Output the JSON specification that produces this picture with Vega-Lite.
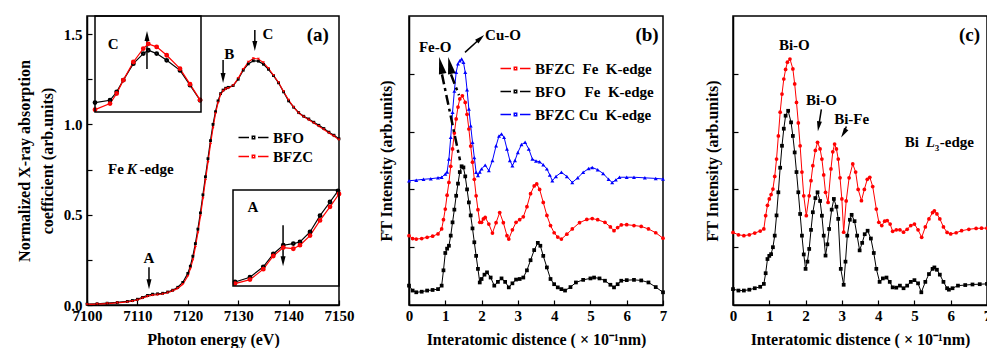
{
"$schema": "https://vega.github.io/schema/vega-lite/v6.json",
"padding": {"left": 15, "top": 14, "right": 0, "bottom": 0},
"bounds": "flush",
"spacing": 70,
"datasets": {
"a": [
{"s":"BFO","x":7100,"y":0.005},{"s":"BFO","x":7102,"y":0.007},{"s":"BFO","x":7104,"y":0.01},{"s":"BFO","x":7106,"y":0.014},{"s":"BFO","x":7108,"y":0.02},{"s":"BFO","x":7109,"y":0.025},{"s":"BFO","x":7110,"y":0.032},{"s":"BFO","x":7111,"y":0.042},{"s":"BFO","x":7112,"y":0.053},{"s":"BFO","x":7113,"y":0.06},{"s":"BFO","x":7114,"y":0.062},{"s":"BFO","x":7115,"y":0.065},{"s":"BFO","x":7116,"y":0.072},{"s":"BFO","x":7117,"y":0.082},{"s":"BFO","x":7118,"y":0.098},{"s":"BFO","x":7119,"y":0.125},{"s":"BFO","x":7120,"y":0.175},{"s":"BFO","x":7120.5,"y":0.215},{"s":"BFO","x":7121,"y":0.27},{"s":"BFO","x":7121.5,"y":0.34},{"s":"BFO","x":7122,"y":0.42},{"s":"BFO","x":7122.5,"y":0.51},{"s":"BFO","x":7123,"y":0.61},{"s":"BFO","x":7123.5,"y":0.71},{"s":"BFO","x":7124,"y":0.81},{"s":"BFO","x":7124.5,"y":0.91},{"s":"BFO","x":7125,"y":1.0},{"s":"BFO","x":7125.5,"y":1.07},{"s":"BFO","x":7126,"y":1.13},{"s":"BFO","x":7126.5,"y":1.17},{"s":"BFO","x":7127,"y":1.19},{"s":"BFO","x":7127.5,"y":1.2},{"s":"BFO","x":7128,"y":1.205},{"s":"BFO","x":7129,"y":1.215},{"s":"BFO","x":7130,"y":1.25},{"s":"BFO","x":7131,"y":1.3},{"s":"BFO","x":7132,"y":1.335},{"s":"BFO","x":7133,"y":1.352},{"s":"BFO","x":7134,"y":1.35},{"s":"BFO","x":7135,"y":1.333},{"s":"BFO","x":7136,"y":1.305},{"s":"BFO","x":7137,"y":1.27},{"s":"BFO","x":7138,"y":1.23},{"s":"BFO","x":7139,"y":1.18},{"s":"BFO","x":7140,"y":1.13},{"s":"BFO","x":7141,"y":1.095},{"s":"BFO","x":7142,"y":1.065},{"s":"BFO","x":7143,"y":1.045},{"s":"BFO","x":7144,"y":1.03},{"s":"BFO","x":7145,"y":1.012},{"s":"BFO","x":7146,"y":0.995},{"s":"BFO","x":7147,"y":0.977},{"s":"BFO","x":7148,"y":0.957},{"s":"BFO","x":7149,"y":0.94},{"s":"BFO","x":7150,"y":0.92},
{"s":"BFZC","x":7100,"y":0.003},{"s":"BFZC","x":7102,"y":0.005},{"s":"BFZC","x":7104,"y":0.008},{"s":"BFZC","x":7106,"y":0.012},{"s":"BFZC","x":7108,"y":0.017},{"s":"BFZC","x":7109,"y":0.021},{"s":"BFZC","x":7110,"y":0.028},{"s":"BFZC","x":7111,"y":0.038},{"s":"BFZC","x":7112,"y":0.048},{"s":"BFZC","x":7113,"y":0.054},{"s":"BFZC","x":7114,"y":0.057},{"s":"BFZC","x":7115,"y":0.061},{"s":"BFZC","x":7116,"y":0.068},{"s":"BFZC","x":7117,"y":0.078},{"s":"BFZC","x":7118,"y":0.092},{"s":"BFZC","x":7119,"y":0.115},{"s":"BFZC","x":7120,"y":0.16},{"s":"BFZC","x":7120.5,"y":0.2},{"s":"BFZC","x":7121,"y":0.25},{"s":"BFZC","x":7121.5,"y":0.32},{"s":"BFZC","x":7122,"y":0.4},{"s":"BFZC","x":7122.5,"y":0.49},{"s":"BFZC","x":7123,"y":0.59},{"s":"BFZC","x":7123.5,"y":0.69},{"s":"BFZC","x":7124,"y":0.79},{"s":"BFZC","x":7124.5,"y":0.89},{"s":"BFZC","x":7125,"y":0.98},{"s":"BFZC","x":7125.5,"y":1.06},{"s":"BFZC","x":7126,"y":1.12},{"s":"BFZC","x":7126.5,"y":1.165},{"s":"BFZC","x":7127,"y":1.185},{"s":"BFZC","x":7127.5,"y":1.195},{"s":"BFZC","x":7128,"y":1.2},{"s":"BFZC","x":7129,"y":1.215},{"s":"BFZC","x":7130,"y":1.255},{"s":"BFZC","x":7131,"y":1.305},{"s":"BFZC","x":7132,"y":1.345},{"s":"BFZC","x":7133,"y":1.365},{"s":"BFZC","x":7134,"y":1.362},{"s":"BFZC","x":7135,"y":1.342},{"s":"BFZC","x":7136,"y":1.31},{"s":"BFZC","x":7137,"y":1.272},{"s":"BFZC","x":7138,"y":1.232},{"s":"BFZC","x":7139,"y":1.182},{"s":"BFZC","x":7140,"y":1.135},{"s":"BFZC","x":7141,"y":1.095},{"s":"BFZC","x":7142,"y":1.063},{"s":"BFZC","x":7143,"y":1.042},{"s":"BFZC","x":7144,"y":1.025},{"s":"BFZC","x":7145,"y":1.008},{"s":"BFZC","x":7146,"y":0.99},{"s":"BFZC","x":7147,"y":0.972},{"s":"BFZC","x":7148,"y":0.952},{"s":"BFZC","x":7149,"y":0.935},{"s":"BFZC","x":7150,"y":0.915}
],
"ic": [
{"s":"BFO","x":7127.5,"y":1.198},{"s":"BFO","x":7129.06,"y":1.205},{"s":"BFO","x":7129.75,"y":1.23},{"s":"BFO","x":7130.44,"y":1.265},{"s":"BFO","x":7131.48,"y":1.314},{"s":"BFO","x":7132.51,"y":1.344},{"s":"BFO","x":7133.03,"y":1.354},{"s":"BFO","x":7133.9,"y":1.344},{"s":"BFO","x":7134.94,"y":1.324},{"s":"BFO","x":7136.32,"y":1.294},{"s":"BFO","x":7137.36,"y":1.25},{"s":"BFO","x":7138.4,"y":1.205},
{"s":"BFZC","x":7127.5,"y":1.177},{"s":"BFZC","x":7129.06,"y":1.195},{"s":"BFZC","x":7129.75,"y":1.225},{"s":"BFZC","x":7130.44,"y":1.265},{"s":"BFZC","x":7131.48,"y":1.319},{"s":"BFZC","x":7132.51,"y":1.359},{"s":"BFZC","x":7133.03,"y":1.373},{"s":"BFZC","x":7133.9,"y":1.364},{"s":"BFZC","x":7134.94,"y":1.339},{"s":"BFZC","x":7136.32,"y":1.299},{"s":"BFZC","x":7137.36,"y":1.253},{"s":"BFZC","x":7138.4,"y":1.206}
],
"ia": [
{"s":"BFO","x":7106.23,"y":0.005},{"s":"BFO","x":7107.92,"y":0.011},{"s":"BFO","x":7109.43,"y":0.024},{"s":"BFO","x":7110.56,"y":0.04},{"s":"BFO","x":7111.69,"y":0.051},{"s":"BFO","x":7112.83,"y":0.053},{"s":"BFO","x":7113.58,"y":0.055},{"s":"BFO","x":7114.72,"y":0.0675},{"s":"BFO","x":7115.85,"y":0.088},{"s":"BFO","x":7116.98,"y":0.105},{"s":"BFO","x":7117.89,"y":0.119},
{"s":"BFZC","x":7106.23,"y":0.003},{"s":"BFZC","x":7107.92,"y":0.008},{"s":"BFZC","x":7109.43,"y":0.021},{"s":"BFZC","x":7110.56,"y":0.0375},{"s":"BFZC","x":7111.69,"y":0.048},{"s":"BFZC","x":7112.83,"y":0.0466},{"s":"BFZC","x":7113.58,"y":0.051},{"s":"BFZC","x":7114.72,"y":0.063},{"s":"BFZC","x":7115.85,"y":0.082},{"s":"BFZC","x":7116.98,"y":0.099},{"s":"BFZC","x":7118,"y":0.115}
],
"b": [
{"s":"BFO-Fe","x":0,"y":0.67},{"s":"BFO-Fe","x":0.1,"y":0.5},{"s":"BFO-Fe","x":0.2,"y":0.44},{"s":"BFO-Fe","x":0.35,"y":0.46},{"s":"BFO-Fe","x":0.5,"y":0.5},{"s":"BFO-Fe","x":0.65,"y":0.52},{"s":"BFO-Fe","x":0.8,"y":0.55},{"s":"BFO-Fe","x":0.9,"y":0.67},{"s":"BFO-Fe","x":0.95,"y":1.2},{"s":"BFO-Fe","x":1.0,"y":1.8},{"s":"BFO-Fe","x":1.05,"y":1.95},{"s":"BFO-Fe","x":1.1,"y":2.05},{"s":"BFO-Fe","x":1.15,"y":2.4},{"s":"BFO-Fe","x":1.2,"y":2.86},{"s":"BFO-Fe","x":1.25,"y":3.3},{"s":"BFO-Fe","x":1.3,"y":3.78},{"s":"BFO-Fe","x":1.35,"y":4.2},{"s":"BFO-Fe","x":1.4,"y":4.6},{"s":"BFO-Fe","x":1.45,"y":4.8},{"s":"BFO-Fe","x":1.5,"y":4.76},{"s":"BFO-Fe","x":1.55,"y":4.45},{"s":"BFO-Fe","x":1.6,"y":4.0},{"s":"BFO-Fe","x":1.65,"y":3.55},{"s":"BFO-Fe","x":1.7,"y":3.1},{"s":"BFO-Fe","x":1.75,"y":2.65},{"s":"BFO-Fe","x":1.8,"y":2.17},{"s":"BFO-Fe","x":1.85,"y":1.7},{"s":"BFO-Fe","x":1.9,"y":1.25},{"s":"BFO-Fe","x":1.95,"y":0.78},{"s":"BFO-Fe","x":2.0,"y":0.9},{"s":"BFO-Fe","x":2.08,"y":1.05},{"s":"BFO-Fe","x":2.15,"y":1.13},{"s":"BFO-Fe","x":2.25,"y":0.95},{"s":"BFO-Fe","x":2.35,"y":0.67},{"s":"BFO-Fe","x":2.45,"y":0.8},{"s":"BFO-Fe","x":2.55,"y":0.92},{"s":"BFO-Fe","x":2.65,"y":0.8},{"s":"BFO-Fe","x":2.75,"y":0.61},{"s":"BFO-Fe","x":2.85,"y":0.75},{"s":"BFO-Fe","x":2.95,"y":0.88},{"s":"BFO-Fe","x":3.05,"y":0.9},{"s":"BFO-Fe","x":3.15,"y":0.95},{"s":"BFO-Fe","x":3.25,"y":1.2},{"s":"BFO-Fe","x":3.35,"y":1.55},{"s":"BFO-Fe","x":3.45,"y":1.9},{"s":"BFO-Fe","x":3.55,"y":2.15},{"s":"BFO-Fe","x":3.62,"y":2.05},{"s":"BFO-Fe","x":3.7,"y":1.7},{"s":"BFO-Fe","x":3.8,"y":1.3},{"s":"BFO-Fe","x":3.9,"y":0.9},{"s":"BFO-Fe","x":4.0,"y":0.72},{"s":"BFO-Fe","x":4.1,"y":0.61},{"s":"BFO-Fe","x":4.2,"y":0.55},{"s":"BFO-Fe","x":4.3,"y":0.5},{"s":"BFO-Fe","x":4.45,"y":0.62},{"s":"BFO-Fe","x":4.6,"y":0.78},{"s":"BFO-Fe","x":4.8,"y":0.87},{"s":"BFO-Fe","x":5.0,"y":0.92},{"s":"BFO-Fe","x":5.1,"y":0.95},{"s":"BFO-Fe","x":5.25,"y":0.92},{"s":"BFO-Fe","x":5.4,"y":0.84},{"s":"BFO-Fe","x":5.55,"y":0.7},{"s":"BFO-Fe","x":5.65,"y":0.61},{"s":"BFO-Fe","x":5.75,"y":0.72},{"s":"BFO-Fe","x":5.85,"y":0.84},{"s":"BFO-Fe","x":6.0,"y":0.86},{"s":"BFO-Fe","x":6.2,"y":0.87},{"s":"BFO-Fe","x":6.4,"y":0.85},{"s":"BFO-Fe","x":6.6,"y":0.78},{"s":"BFO-Fe","x":6.8,"y":0.62},{"s":"BFO-Fe","x":7.0,"y":0.44},
{"s":"BFZC-Fe","x":0,"y":2.4},{"s":"BFZC-Fe","x":0.1,"y":2.3},{"s":"BFZC-Fe","x":0.2,"y":2.28},{"s":"BFZC-Fe","x":0.35,"y":2.3},{"s":"BFZC-Fe","x":0.5,"y":2.34},{"s":"BFZC-Fe","x":0.65,"y":2.38},{"s":"BFZC-Fe","x":0.8,"y":2.46},{"s":"BFZC-Fe","x":0.9,"y":2.63},{"s":"BFZC-Fe","x":0.95,"y":2.95},{"s":"BFZC-Fe","x":1.0,"y":3.32},{"s":"BFZC-Fe","x":1.05,"y":3.8},{"s":"BFZC-Fe","x":1.1,"y":4.24},{"s":"BFZC-Fe","x":1.15,"y":4.8},{"s":"BFZC-Fe","x":1.2,"y":5.4},{"s":"BFZC-Fe","x":1.25,"y":5.95},{"s":"BFZC-Fe","x":1.3,"y":6.44},{"s":"BFZC-Fe","x":1.35,"y":6.85},{"s":"BFZC-Fe","x":1.4,"y":7.13},{"s":"BFZC-Fe","x":1.47,"y":7.24},{"s":"BFZC-Fe","x":1.55,"y":7.01},{"s":"BFZC-Fe","x":1.6,"y":6.6},{"s":"BFZC-Fe","x":1.65,"y":6.09},{"s":"BFZC-Fe","x":1.7,"y":5.5},{"s":"BFZC-Fe","x":1.75,"y":4.94},{"s":"BFZC-Fe","x":1.8,"y":4.35},{"s":"BFZC-Fe","x":1.85,"y":3.78},{"s":"BFZC-Fe","x":1.9,"y":3.3},{"s":"BFZC-Fe","x":1.95,"y":2.86},{"s":"BFZC-Fe","x":2.0,"y":2.86},{"s":"BFZC-Fe","x":2.05,"y":2.98},{"s":"BFZC-Fe","x":2.1,"y":3.03},{"s":"BFZC-Fe","x":2.2,"y":2.8},{"s":"BFZC-Fe","x":2.3,"y":2.49},{"s":"BFZC-Fe","x":2.4,"y":2.85},{"s":"BFZC-Fe","x":2.5,"y":3.2},{"s":"BFZC-Fe","x":2.6,"y":2.85},{"s":"BFZC-Fe","x":2.7,"y":2.4},{"s":"BFZC-Fe","x":2.75,"y":2.28},{"s":"BFZC-Fe","x":2.85,"y":2.6},{"s":"BFZC-Fe","x":2.95,"y":2.86},{"s":"BFZC-Fe","x":3.05,"y":2.95},{"s":"BFZC-Fe","x":3.15,"y":3.05},{"s":"BFZC-Fe","x":3.25,"y":3.4},{"s":"BFZC-Fe","x":3.35,"y":3.85},{"s":"BFZC-Fe","x":3.45,"y":4.12},{"s":"BFZC-Fe","x":3.52,"y":4.19},{"s":"BFZC-Fe","x":3.6,"y":4.0},{"s":"BFZC-Fe","x":3.7,"y":3.55},{"s":"BFZC-Fe","x":3.8,"y":3.1},{"s":"BFZC-Fe","x":3.9,"y":2.75},{"s":"BFZC-Fe","x":4.0,"y":2.5},{"s":"BFZC-Fe","x":4.1,"y":2.35},{"s":"BFZC-Fe","x":4.2,"y":2.28},{"s":"BFZC-Fe","x":4.35,"y":2.45},{"s":"BFZC-Fe","x":4.5,"y":2.63},{"s":"BFZC-Fe","x":4.7,"y":2.85},{"s":"BFZC-Fe","x":4.9,"y":2.96},{"s":"BFZC-Fe","x":5.05,"y":2.99},{"s":"BFZC-Fe","x":5.2,"y":2.95},{"s":"BFZC-Fe","x":5.4,"y":2.86},{"s":"BFZC-Fe","x":5.55,"y":2.7},{"s":"BFZC-Fe","x":5.65,"y":2.57},{"s":"BFZC-Fe","x":5.75,"y":2.68},{"s":"BFZC-Fe","x":5.85,"y":2.77},{"s":"BFZC-Fe","x":6.0,"y":2.78},{"s":"BFZC-Fe","x":6.2,"y":2.75},{"s":"BFZC-Fe","x":6.4,"y":2.72},{"s":"BFZC-Fe","x":6.6,"y":2.63},{"s":"BFZC-Fe","x":6.8,"y":2.5},{"s":"BFZC-Fe","x":7.0,"y":2.31},
{"s":"BFZC-Cu","x":0,"y":4.3},{"s":"BFZC-Cu","x":0.2,"y":4.32},{"s":"BFZC-Cu","x":0.4,"y":4.35},{"s":"BFZC-Cu","x":0.6,"y":4.37},{"s":"BFZC-Cu","x":0.8,"y":4.4},{"s":"BFZC-Cu","x":0.9,"y":4.42},{"s":"BFZC-Cu","x":1.0,"y":4.53},{"s":"BFZC-Cu","x":1.05,"y":4.6},{"s":"BFZC-Cu","x":1.1,"y":5.05},{"s":"BFZC-Cu","x":1.15,"y":5.8},{"s":"BFZC-Cu","x":1.2,"y":6.67},{"s":"BFZC-Cu","x":1.25,"y":7.4},{"s":"BFZC-Cu","x":1.3,"y":8.05},{"s":"BFZC-Cu","x":1.35,"y":8.35},{"s":"BFZC-Cu","x":1.4,"y":8.45},{"s":"BFZC-Cu","x":1.45,"y":8.51},{"s":"BFZC-Cu","x":1.5,"y":8.4},{"s":"BFZC-Cu","x":1.55,"y":8.05},{"s":"BFZC-Cu","x":1.6,"y":7.45},{"s":"BFZC-Cu","x":1.65,"y":6.78},{"s":"BFZC-Cu","x":1.7,"y":6.2},{"s":"BFZC-Cu","x":1.75,"y":5.63},{"s":"BFZC-Cu","x":1.8,"y":5.1},{"s":"BFZC-Cu","x":1.85,"y":4.59},{"s":"BFZC-Cu","x":1.9,"y":4.48},{"s":"BFZC-Cu","x":1.95,"y":4.6},{"s":"BFZC-Cu","x":2.0,"y":4.71},{"s":"BFZC-Cu","x":2.1,"y":4.84},{"s":"BFZC-Cu","x":2.2,"y":4.65},{"s":"BFZC-Cu","x":2.3,"y":5.0},{"s":"BFZC-Cu","x":2.4,"y":5.51},{"s":"BFZC-Cu","x":2.48,"y":5.85},{"s":"BFZC-Cu","x":2.55,"y":5.92},{"s":"BFZC-Cu","x":2.62,"y":5.8},{"s":"BFZC-Cu","x":2.7,"y":5.4},{"s":"BFZC-Cu","x":2.78,"y":5.0},{"s":"BFZC-Cu","x":2.85,"y":4.82},{"s":"BFZC-Cu","x":2.92,"y":5.0},{"s":"BFZC-Cu","x":3.0,"y":5.28},{"s":"BFZC-Cu","x":3.1,"y":5.55},{"s":"BFZC-Cu","x":3.2,"y":5.63},{"s":"BFZC-Cu","x":3.3,"y":5.4},{"s":"BFZC-Cu","x":3.4,"y":5.05},{"s":"BFZC-Cu","x":3.5,"y":4.98},{"s":"BFZC-Cu","x":3.6,"y":4.96},{"s":"BFZC-Cu","x":3.7,"y":4.85},{"s":"BFZC-Cu","x":3.8,"y":4.71},{"s":"BFZC-Cu","x":3.88,"y":4.5},{"s":"BFZC-Cu","x":3.95,"y":4.3},{"s":"BFZC-Cu","x":4.05,"y":4.45},{"s":"BFZC-Cu","x":4.2,"y":4.59},{"s":"BFZC-Cu","x":4.35,"y":4.45},{"s":"BFZC-Cu","x":4.5,"y":4.24},{"s":"BFZC-Cu","x":4.65,"y":4.4},{"s":"BFZC-Cu","x":4.8,"y":4.59},{"s":"BFZC-Cu","x":4.95,"y":4.72},{"s":"BFZC-Cu","x":5.05,"y":4.76},{"s":"BFZC-Cu","x":5.2,"y":4.68},{"s":"BFZC-Cu","x":5.35,"y":4.55},{"s":"BFZC-Cu","x":5.5,"y":4.35},{"s":"BFZC-Cu","x":5.6,"y":4.24},{"s":"BFZC-Cu","x":5.7,"y":4.33},{"s":"BFZC-Cu","x":5.8,"y":4.42},{"s":"BFZC-Cu","x":6.0,"y":4.42},{"s":"BFZC-Cu","x":6.2,"y":4.42},{"s":"BFZC-Cu","x":6.5,"y":4.4},{"s":"BFZC-Cu","x":6.8,"y":4.38},{"s":"BFZC-Cu","x":7.0,"y":4.36}
],
"c": [
{"s":"BFZC","x":0,"y":2.51},{"s":"BFZC","x":0.15,"y":2.43},{"s":"BFZC","x":0.3,"y":2.4},{"s":"BFZC","x":0.45,"y":2.43},{"s":"BFZC","x":0.6,"y":2.49},{"s":"BFZC","x":0.75,"y":2.56},{"s":"BFZC","x":0.85,"y":2.63},{"s":"BFZC","x":0.9,"y":3.09},{"s":"BFZC","x":0.95,"y":3.45},{"s":"BFZC","x":1.0,"y":3.67},{"s":"BFZC","x":1.05,"y":3.82},{"s":"BFZC","x":1.1,"y":4.01},{"s":"BFZC","x":1.15,"y":4.45},{"s":"BFZC","x":1.2,"y":5.05},{"s":"BFZC","x":1.25,"y":5.85},{"s":"BFZC","x":1.3,"y":6.67},{"s":"BFZC","x":1.35,"y":7.3},{"s":"BFZC","x":1.4,"y":7.82},{"s":"BFZC","x":1.45,"y":8.15},{"s":"BFZC","x":1.5,"y":8.4},{"s":"BFZC","x":1.57,"y":8.51},{"s":"BFZC","x":1.65,"y":8.17},{"s":"BFZC","x":1.7,"y":7.65},{"s":"BFZC","x":1.75,"y":7.01},{"s":"BFZC","x":1.8,"y":6.3},{"s":"BFZC","x":1.85,"y":5.51},{"s":"BFZC","x":1.9,"y":4.6},{"s":"BFZC","x":1.95,"y":3.78},{"s":"BFZC","x":2.02,"y":3.09},{"s":"BFZC","x":2.1,"y":3.78},{"s":"BFZC","x":2.15,"y":4.3},{"s":"BFZC","x":2.2,"y":4.82},{"s":"BFZC","x":2.27,"y":5.35},{"s":"BFZC","x":2.33,"y":5.63},{"s":"BFZC","x":2.4,"y":5.4},{"s":"BFZC","x":2.45,"y":5.05},{"s":"BFZC","x":2.5,"y":4.5},{"s":"BFZC","x":2.55,"y":3.9},{"s":"BFZC","x":2.62,"y":3.55},{"s":"BFZC","x":2.7,"y":4.71},{"s":"BFZC","x":2.75,"y":5.3},{"s":"BFZC","x":2.8,"y":5.57},{"s":"BFZC","x":2.85,"y":5.4},{"s":"BFZC","x":2.9,"y":5.05},{"s":"BFZC","x":2.95,"y":4.4},{"s":"BFZC","x":3.0,"y":3.67},{"s":"BFZC","x":3.05,"y":2.52},{"s":"BFZC","x":3.12,"y":3.6},{"s":"BFZC","x":3.2,"y":4.4},{"s":"BFZC","x":3.3,"y":4.88},{"s":"BFZC","x":3.38,"y":4.6},{"s":"BFZC","x":3.45,"y":4.0},{"s":"BFZC","x":3.54,"y":3.61},{"s":"BFZC","x":3.62,"y":4.0},{"s":"BFZC","x":3.7,"y":4.35},{"s":"BFZC","x":3.77,"y":4.42},{"s":"BFZC","x":3.85,"y":4.1},{"s":"BFZC","x":3.95,"y":3.32},{"s":"BFZC","x":4.02,"y":2.86},{"s":"BFZC","x":4.1,"y":2.75},{"s":"BFZC","x":4.18,"y":2.9},{"s":"BFZC","x":4.25,"y":2.92},{"s":"BFZC","x":4.33,"y":2.8},{"s":"BFZC","x":4.4,"y":2.55},{"s":"BFZC","x":4.5,"y":2.6},{"s":"BFZC","x":4.6,"y":2.6},{"s":"BFZC","x":4.7,"y":2.52},{"s":"BFZC","x":4.8,"y":2.62},{"s":"BFZC","x":4.9,"y":2.75},{"s":"BFZC","x":5.0,"y":2.8},{"s":"BFZC","x":5.1,"y":2.6},{"s":"BFZC","x":5.2,"y":2.34},{"s":"BFZC","x":5.3,"y":2.7},{"s":"BFZC","x":5.4,"y":2.98},{"s":"BFZC","x":5.5,"y":3.2},{"s":"BFZC","x":5.55,"y":3.26},{"s":"BFZC","x":5.62,"y":3.15},{"s":"BFZC","x":5.7,"y":2.98},{"s":"BFZC","x":5.8,"y":2.7},{"s":"BFZC","x":5.9,"y":2.51},{"s":"BFZC","x":6.0,"y":2.46},{"s":"BFZC","x":6.15,"y":2.5},{"s":"BFZC","x":6.3,"y":2.57},{"s":"BFZC","x":6.5,"y":2.62},{"s":"BFZC","x":6.7,"y":2.65},{"s":"BFZC","x":6.85,"y":2.66},{"s":"BFZC","x":7.0,"y":2.66},
{"s":"BFO","x":0,"y":0.55},{"s":"BFO","x":0.15,"y":0.5},{"s":"BFO","x":0.3,"y":0.5},{"s":"BFO","x":0.45,"y":0.53},{"s":"BFO","x":0.6,"y":0.58},{"s":"BFO","x":0.75,"y":0.63},{"s":"BFO","x":0.85,"y":0.73},{"s":"BFO","x":0.9,"y":1.1},{"s":"BFO","x":0.95,"y":1.59},{"s":"BFO","x":1.0,"y":1.7},{"s":"BFO","x":1.05,"y":1.76},{"s":"BFO","x":1.1,"y":2.0},{"s":"BFO","x":1.15,"y":2.4},{"s":"BFO","x":1.2,"y":3.1},{"s":"BFO","x":1.25,"y":3.9},{"s":"BFO","x":1.3,"y":4.75},{"s":"BFO","x":1.35,"y":5.51},{"s":"BFO","x":1.4,"y":6.1},{"s":"BFO","x":1.45,"y":6.55},{"s":"BFO","x":1.52,"y":6.72},{"s":"BFO","x":1.6,"y":6.32},{"s":"BFO","x":1.65,"y":5.85},{"s":"BFO","x":1.7,"y":5.28},{"s":"BFO","x":1.75,"y":4.6},{"s":"BFO","x":1.8,"y":3.9},{"s":"BFO","x":1.85,"y":3.15},{"s":"BFO","x":1.9,"y":2.4},{"s":"BFO","x":1.95,"y":1.75},{"s":"BFO","x":2.0,"y":1.25},{"s":"BFO","x":2.05,"y":1.5},{"s":"BFO","x":2.1,"y":1.94},{"s":"BFO","x":2.15,"y":2.6},{"s":"BFO","x":2.2,"y":3.21},{"s":"BFO","x":2.27,"y":3.7},{"s":"BFO","x":2.33,"y":3.9},{"s":"BFO","x":2.4,"y":3.6},{"s":"BFO","x":2.45,"y":3.09},{"s":"BFO","x":2.5,"y":2.4},{"s":"BFO","x":2.55,"y":1.71},{"s":"BFO","x":2.6,"y":2.1},{"s":"BFO","x":2.65,"y":2.63},{"s":"BFO","x":2.72,"y":3.3},{"s":"BFO","x":2.78,"y":3.67},{"s":"BFO","x":2.85,"y":3.4},{"s":"BFO","x":2.9,"y":2.98},{"s":"BFO","x":2.97,"y":1.25},{"s":"BFO","x":3.05,"y":0.7},{"s":"BFO","x":3.1,"y":1.5},{"s":"BFO","x":3.15,"y":2.4},{"s":"BFO","x":3.22,"y":2.95},{"s":"BFO","x":3.27,"y":3.12},{"s":"BFO","x":3.35,"y":2.9},{"s":"BFO","x":3.42,"y":2.4},{"s":"BFO","x":3.49,"y":1.89},{"s":"BFO","x":3.56,"y":2.15},{"s":"BFO","x":3.63,"y":2.45},{"s":"BFO","x":3.71,"y":2.57},{"s":"BFO","x":3.8,"y":2.3},{"s":"BFO","x":3.88,"y":1.8},{"s":"BFO","x":3.95,"y":1.25},{"s":"BFO","x":4.04,"y":0.8},{"s":"BFO","x":4.13,"y":0.92},{"s":"BFO","x":4.23,"y":0.95},{"s":"BFO","x":4.32,"y":0.8},{"s":"BFO","x":4.4,"y":0.61},{"s":"BFO","x":4.5,"y":0.6},{"s":"BFO","x":4.6,"y":0.67},{"s":"BFO","x":4.7,"y":0.58},{"s":"BFO","x":4.8,"y":0.67},{"s":"BFO","x":4.9,"y":0.8},{"s":"BFO","x":5.0,"y":0.86},{"s":"BFO","x":5.1,"y":0.75},{"s":"BFO","x":5.19,"y":0.44},{"s":"BFO","x":5.3,"y":0.8},{"s":"BFO","x":5.4,"y":1.07},{"s":"BFO","x":5.5,"y":1.25},{"s":"BFO","x":5.55,"y":1.3},{"s":"BFO","x":5.62,"y":1.22},{"s":"BFO","x":5.7,"y":1.05},{"s":"BFO","x":5.8,"y":0.8},{"s":"BFO","x":5.9,"y":0.58},{"s":"BFO","x":5.95,"y":0.53},{"s":"BFO","x":6.05,"y":0.58},{"s":"BFO","x":6.2,"y":0.67},{"s":"BFO","x":6.4,"y":0.69},{"s":"BFO","x":6.6,"y":0.71},{"s":"BFO","x":6.8,"y":0.72},{"s":"BFO","x":7.0,"y":0.73}
]
},
"hconcat": [
{
"width": 252, "height": 289,
"layer": [
{
"layer": [
{"data": {"name": "a"}, "mark": {"type": "line", "strokeWidth": 1.2},
 "encoding": {
  "x": {"field": "x", "type": "quantitative", "scale": {"domain": [7100, 7150], "nice": false, "zero": false},
        "axis": {"title": "Photon energy (eV)", "labelPadding": 8, "labelOverlap": false, "values": [7100,7105,7110,7115,7120,7125,7130,7135,7140,7145,7150], "labelExpr": "datum.value % 10 === 0 ? format(datum.value, 'd') : ''"}},
  "y": {"field": "y", "type": "quantitative", "scale": {"domain": [0, 1.6], "nice": false},
        "axis": {"title": ["Normalized X-ray absorption", "coefficient  (arb.units)"], "labelPadding": 10, "labelOverlap": false, "titleLineHeight": 23, "values": [0,0.25,0.5,0.75,1,1.25,1.5], "labelExpr": "datum.value % 0.5 === 0 ? format(datum.value, '.1f') : ''"}},
  "color": {"field": "s", "type": "nominal", "scale": {"domain": ["BFO", "BFZC"], "range": ["#000000", "#ff0000"]},
        "legend": {"orient": "none", "legendX": 158, "legendY": 113, "title": null, "symbolType": "M-2,0H-0.6M0.6,0H2M-0.16,-0.16H0.16V0.16H-0.16Z", "symbolSize": 225, "symbolStrokeWidth": 1.5, "rowPadding": 2, "labelOffset": 11}}
 }},
{"data": {"name": "a"}, "transform": [{"filter": "datum.s === 'BFO'"}], "mark": {"type": "point", "filled": true, "size": 8, "opacity": 1, "shape": "square", "color": "#000000"},
 "encoding": {"x": {"field": "x", "type": "quantitative"}, "y": {"field": "y", "type": "quantitative"}}},
{"data": {"name": "a"}, "transform": [{"filter": "datum.s === 'BFZC'"}], "mark": {"type": "point", "filled": true, "size": 9, "opacity": 1, "shape": "triangle-down", "color": "#ff0000"},
 "encoding": {"x": {"field": "x", "type": "quantitative"}, "y": {"field": "y", "type": "quantitative"}}},
{"data": {"values": [{"t":"C","x":7135.9,"y":1.5},{"t":"B","x":7128.2,"y":1.389},{"t":"A","x":7112.3,"y":0.259},{"t":"C","x":7105.2,"y":1.447},{"t":"A","x":7132.9,"y":0.54}]},
 "mark": {"type": "text"},
 "encoding": {"x": {"field": "x", "type": "quantitative"}, "y": {"field": "y", "type": "quantitative"}, "text": {"field": "t"}}},
{"data": {"values": [{"t":"(a)","x":7145.8,"y":1.493}]},
 "mark": {"type": "text", "fontSize": 19},
 "encoding": {"x": {"field": "x", "type": "quantitative"}, "y": {"field": "y", "type": "quantitative"}, "text": {"field": "t"}}},
{"data": {"values": [{"t":"Fe","x":7104.17,"y":0.752},{"t":"-edge","x":7110.4,"y":0.752}]},
 "mark": {"type": "text", "align": "left"},
 "encoding": {"x": {"field": "x", "type": "quantitative"}, "y": {"field": "y", "type": "quantitative"}, "text": {"field": "t"}}},
{"data": {"values": [{"t":"K","x":7107.9,"y":0.752}]},
 "mark": {"type": "text", "align": "left", "fontStyle": "italic"},
 "encoding": {"x": {"field": "x", "type": "quantitative"}, "y": {"field": "y", "type": "quantitative"}, "text": {"field": "t"}}},
{"data": {"values": [{"x":7133.3,"y":1.523,"y2":1.434},{"x":7127.0,"y":1.356,"y2":1.257},{"x":7112.3,"y":0.209,"y2":0.115},{"x":7138.9,"y":0.442,"y2":0.242},{"x":7111.9,"y":1.306,"y2":1.489}]},
 "mark": {"type": "rule", "strokeWidth": 1.5, "color": "black"},
 "encoding": {"x": {"field": "x", "type": "quantitative"}, "y": {"field": "y", "type": "quantitative"}, "y2": {"field": "y2"}}},
{"data": {"values": [{"x":7133.3,"y":1.434},{"x":7127.0,"y":1.257},{"x":7112.3,"y":0.115},{"x":7138.9,"y":0.242}]},
 "mark": {"type": "point", "shape": "M-0.5,-1L0.5,-1L0,1Z", "size": 100, "filled": true, "color": "black", "opacity": 1},
 "encoding": {"x": {"field": "x", "type": "quantitative"}, "y": {"field": "y", "type": "quantitative"}}},
{"data": {"values": [{"x":7111.9,"y":1.489}]},
 "mark": {"type": "point", "shape": "M-0.5,1L0.5,1L0,-1Z", "size": 100, "filled": true, "color": "black", "opacity": 1},
 "encoding": {"x": {"field": "x", "type": "quantitative"}, "y": {"field": "y", "type": "quantitative"}}}
]
},
{
"layer": [
{"data": {"name": "ic"}, "mark": {"type": "line", "strokeWidth": 1.2, "point": {"filled": true, "size": 8}},
 "encoding": {
  "x": {"field": "x", "type": "quantitative", "scale": {"domain": [7127.5, 7138.5], "range": [8, 114], "nice": false, "zero": false}, "axis": null},
  "y": {"field": "y", "type": "quantitative", "scale": {"domain": [1.17, 1.456], "range": [96, 0], "nice": false, "zero": false}, "axis": null},
  "stroke": {"field": "s", "type": "nominal", "scale": {"domain": ["BFO", "BFZC"], "range": ["#000000", "#ff0000"]}, "legend": null}
 }},
{"data": {"values": [{}]}, "mark": {"type": "rect", "fillOpacity": 0, "stroke": "black", "strokeWidth": 1.5},
 "encoding": {"x": {"datum": 7127.5}, "x2": {"datum": 7138.5}, "y": {"datum": 1.17}, "y2": {"datum": 1.456}}}
]
},
{
"layer": [
{"data": {"name": "ia"}, "mark": {"type": "line", "strokeWidth": 1.2, "point": {"filled": true, "size": 8}},
 "encoding": {
  "x": {"field": "x", "type": "quantitative", "scale": {"domain": [7106, 7118], "range": [146, 252], "nice": false, "zero": false}, "axis": null},
  "y": {"field": "y", "type": "quantitative", "scale": {"domain": [0, 0.12], "range": [270, 174], "nice": false, "zero": false}, "axis": null},
  "stroke": {"field": "s", "type": "nominal", "scale": {"domain": ["BFO", "BFZC"], "range": ["#000000", "#ff0000"]}, "legend": null}
 }},
{"data": {"values": [{}]}, "mark": {"type": "rect", "fillOpacity": 0, "stroke": "black", "strokeWidth": 1.5},
 "encoding": {"x": {"datum": 7106}, "x2": {"datum": 7118}, "y": {"datum": 0}, "y2": {"datum": 0.12}}}
]
}
],
"resolve": {"scale": {"x": "independent", "y": "independent"}}
},
{
"width": 254, "height": 289,
"layer": [
{
"layer": [
{"data": {"name": "b"}, "mark": {"type": "line", "strokeWidth": 1},
 "encoding": {
  "x": {"field": "x", "type": "quantitative", "scale": {"domain": [0, 7], "nice": false},
        "axis": {"title": "Interatomic distence ( × 10⁻¹nm)", "labelPadding": 8, "values": [0,0.5,1,1.5,2,2.5,3,3.5,4,4.5,5,5.5,6,6.5,7], "labelExpr": "datum.value % 2 === 0 ? format(datum.value, 'd') : ''"}},
  "y": {"field": "y", "type": "quantitative", "scale": {"domain": [0, 10], "nice": false},
        "axis": {"title": "FT Intensity (arb.units)", "labels": false, "values": [2, 4, 6, 8], "titlePadding": 14}},
  "color": {"field": "s", "type": "nominal", "scale": {"domain": ["BFZC-Fe", "BFO-Fe", "BFZC-Cu"], "range": ["#ff0000", "#000000", "#0000ff"]},
        "legend": {"orient": "none", "legendX": 98, "legendY": 44, "title": null, "symbolType": "M-2,0H-0.6M0.6,0H2M-0.16,-0.16H0.16V0.16H-0.16Z", "symbolSize": 225, "symbolStrokeWidth": 1.5, "rowPadding": 6, "labelOffset": 11,
        "labelExpr": "datum.label === 'BFZC-Fe' ? 'BFZC\u00a0\u00a0Fe\u00a0\u00a0K-edge' : datum.label === 'BFO-Fe' ? 'BFO\u00a0\u00a0\u00a0\u00a0\u00a0Fe\u00a0\u00a0K-edge' : 'BFZC\u00a0Cu\u00a0\u00a0K-edge'"}}
 }},
{"data": {"name": "b"}, "transform": [{"filter": "datum.s === 'BFZC-Fe'"}], "mark": {"type": "point", "filled": true, "size": 14, "opacity": 1, "shape": "circle", "color": "#ff0000"},
 "encoding": {"x": {"field": "x", "type": "quantitative"}, "y": {"field": "y", "type": "quantitative"}}},
{"data": {"name": "b"}, "transform": [{"filter": "datum.s === 'BFO-Fe'"}], "mark": {"type": "point", "filled": true, "size": 14, "opacity": 1, "shape": "square", "color": "#000000"},
 "encoding": {"x": {"field": "x", "type": "quantitative"}, "y": {"field": "y", "type": "quantitative"}}},
{"data": {"name": "b"}, "transform": [{"filter": "datum.s === 'BFZC-Cu'"}], "mark": {"type": "point", "filled": true, "size": 16, "opacity": 1, "shape": "triangle-up", "color": "#0000ff"},
 "encoding": {"x": {"field": "x", "type": "quantitative"}, "y": {"field": "y", "type": "quantitative"}}},
{"data": {"values": [{"t":"Fe-O","x":0.72,"y":8.92},{"t":"Cu-O","x":2.59,"y":9.33}]},
 "mark": {"type": "text"},
 "encoding": {"x": {"field": "x", "type": "quantitative"}, "y": {"field": "y", "type": "quantitative"}, "text": {"field": "t"}}},
{"data": {"values": [{"t":"(b)","x":6.56,"y":9.33}]},
 "mark": {"type": "text", "fontSize": 19},
 "encoding": {"x": {"field": "x", "type": "quantitative"}, "y": {"field": "y", "type": "quantitative"}, "text": {"field": "t"}}},
{"data": {"values": [{"x":1.543,"y":8.74,"x2":1.97,"y2":9.23}]},
 "mark": {"type": "rule", "strokeWidth": 1.5, "color": "black"},
 "encoding": {"x": {"field": "x", "type": "quantitative"}, "y": {"field": "y", "type": "quantitative"}, "x2": {"field": "x2"}, "y2": {"field": "y2"}}},
{"data": {"values": [{"x":1.97,"y":9.23}]},
 "mark": {"type": "point", "shape": "M-0.5,1L0.5,1L0,-1Z", "size": 100, "filled": true, "color": "black", "opacity": 1, "angle": 48},
 "encoding": {"x": {"field": "x", "type": "quantitative"}, "y": {"field": "y", "type": "quantitative"}}},
{"data": {"values": [{"x":0.909,"y":7.98,"x2":1.405,"y2":5.01},{"x":1.157,"y":7.98,"x2":1.377,"y2":7.26}]},
 "mark": {"type": "rule", "strokeWidth": 2.5, "color": "black", "strokeDash": [10, 4, 3, 4]},
 "encoding": {"x": {"field": "x", "type": "quantitative"}, "y": {"field": "y", "type": "quantitative"}, "x2": {"field": "x2"}, "y2": {"field": "y2"}}},
{"data": {"values": [{"x":0.88,"y":8.29},{"x":1.13,"y":8.29}]},
 "mark": {"type": "point", "shape": "M-0.45,1L0.45,1L0,-1Z", "size": 289, "filled": true, "color": "black", "opacity": 1, "angle": -12},
 "encoding": {"x": {"field": "x", "type": "quantitative"}, "y": {"field": "y", "type": "quantitative"}}}
]
},
{"data": {"name": "b"}, "mark": {"type": "point", "opacity": 0},
 "encoding": {
  "x": {"field": "x", "type": "quantitative", "scale": {"domain": [0, 7], "nice": false}, "axis": {"orient": "bottom", "values": [1, 3, 5, 7], "format": "d", "labelPadding": 8, "title": null, "domain": false}},
  "y": {"field": "y", "type": "quantitative", "scale": {"domain": [0, 10], "nice": false}, "axis": null}
 }}
],
"resolve": {"scale": {"x": "independent", "y": "independent"}}
},
{
"width": 254, "height": 289,
"layer": [
{
"layer": [
{"data": {"name": "c"}, "mark": {"type": "line", "strokeWidth": 1},
 "encoding": {
  "x": {"field": "x", "type": "quantitative", "scale": {"domain": [0, 7], "nice": false},
        "axis": {"title": "Interatomic distence ( × 10⁻¹nm)", "labelPadding": 8, "values": [0,0.5,1,1.5,2,2.5,3,3.5,4,4.5,5,5.5,6,6.5,7], "labelExpr": "datum.value % 2 === 0 ? format(datum.value, 'd') : ''"}},
  "y": {"field": "y", "type": "quantitative", "scale": {"domain": [0, 10], "nice": false},
        "axis": {"title": "FT Intensity (arb.units)", "labels": false, "values": [2, 4, 6, 8], "titlePadding": 12}},
  "color": {"field": "s", "type": "nominal", "scale": {"domain": ["BFZC", "BFO"], "range": ["#ff0000", "#000000"]}, "legend": null}
 }},
{"data": {"name": "c"}, "transform": [{"filter": "datum.s === 'BFZC'"}], "mark": {"type": "point", "filled": true, "size": 14, "opacity": 1, "shape": "circle", "color": "#ff0000"},
 "encoding": {"x": {"field": "x", "type": "quantitative"}, "y": {"field": "y", "type": "quantitative"}}},
{"data": {"name": "c"}, "transform": [{"filter": "datum.s === 'BFO'"}], "mark": {"type": "point", "filled": true, "size": 14, "opacity": 1, "shape": "square", "color": "#000000"},
 "encoding": {"x": {"field": "x", "type": "quantitative"}, "y": {"field": "y", "type": "quantitative"}}},
{"data": {"values": [{"t":"Bi-O","x":1.69,"y":8.99},{"t":"Bi-O","x":2.44,"y":7.08},{"t":"Bi-Fe","x":3.27,"y":6.43}]},
 "mark": {"type": "text"},
 "encoding": {"x": {"field": "x", "type": "quantitative"}, "y": {"field": "y", "type": "quantitative"}, "text": {"field": "t"}}},
{"data": {"values": [{"t":"(c)","x":6.52,"y":9.33}]},
 "mark": {"type": "text", "fontSize": 19},
 "encoding": {"x": {"field": "x", "type": "quantitative"}, "y": {"field": "y", "type": "quantitative"}, "text": {"field": "t"}}},
{"data": {"values": [{"t":"Bi","x":4.73,"y":5.63},{"t":"-edge","x":5.7,"y":5.63}]},
 "mark": {"type": "text", "align": "left"},
 "encoding": {"x": {"field": "x", "type": "quantitative"}, "y": {"field": "y", "type": "quantitative"}, "text": {"field": "t"}}},
{"data": {"values": [{"t":"L","x":5.31,"y":5.63}]},
 "mark": {"type": "text", "align": "left", "fontStyle": "italic"},
 "encoding": {"x": {"field": "x", "type": "quantitative"}, "y": {"field": "y", "type": "quantitative"}, "text": {"field": "t"}}},
{"data": {"values": [{"t":"3","x":5.56,"y":5.44}]},
 "mark": {"type": "text", "align": "left", "fontSize": 9},
 "encoding": {"x": {"field": "x", "type": "quantitative"}, "y": {"field": "y", "type": "quantitative"}, "text": {"field": "t"}}},
{"data": {"values": [{"x":2.435,"y":6.77,"x2":2.361,"y2":6.18},{"x":3.124,"y":6.18,"x2":3.05,"y2":5.94}]},
 "mark": {"type": "rule", "strokeWidth": 1.5, "color": "black"},
 "encoding": {"x": {"field": "x", "type": "quantitative"}, "y": {"field": "y", "type": "quantitative"}, "x2": {"field": "x2"}, "y2": {"field": "y2"}}},
{"data": {"values": [{"x":2.361,"y":6.18}]},
 "mark": {"type": "point", "shape": "M-0.5,-1L0.5,-1L0,1Z", "size": 100, "filled": true, "color": "black", "opacity": 1, "angle": 9},
 "encoding": {"x": {"field": "x", "type": "quantitative"}, "y": {"field": "y", "type": "quantitative"}}},
{"data": {"values": [{"x":3.05,"y":5.94}]},
 "mark": {"type": "point", "shape": "M-0.5,-1L0.5,-1L0,1Z", "size": 100, "filled": true, "color": "black", "opacity": 1, "angle": 31},
 "encoding": {"x": {"field": "x", "type": "quantitative"}, "y": {"field": "y", "type": "quantitative"}}}
]
},
{"data": {"name": "c"}, "mark": {"type": "point", "opacity": 0},
 "encoding": {
  "x": {"field": "x", "type": "quantitative", "scale": {"domain": [0, 7], "nice": false}, "axis": {"orient": "bottom", "values": [1, 3, 5, 7], "format": "d", "labelPadding": 8, "title": null, "domain": false}},
  "y": {"field": "y", "type": "quantitative", "scale": {"domain": [0, 10], "nice": false}, "axis": null}
 }}
],
"resolve": {"scale": {"x": "independent", "y": "independent"}}
}
],
"resolve": {"scale": {"color": "independent", "stroke": "independent"}, "legend": {"color": "independent"}},
"config": {
 "font": "Liberation Serif",
 "view": {"stroke": "#000000", "strokeWidth": 1.5},
 "axis": {"labelFont": "Liberation Serif", "labelFontWeight": "bold", "labelFontSize": 15, "labelColor": "#000000",
          "titleFont": "Liberation Serif", "titleFontWeight": "bold", "titleFontSize": 16, "titleColor": "#000000",
          "domainColor": "#000000", "domainWidth": 1.5, "tickColor": "#000000", "tickWidth": 1.2, "tickSize": -5,
          "grid": false, "labelFlush": false, "labelOverlap": false, "labelBound": false, "labelPadding": 6, "titlePadding": 8},
 "legend": {"labelFont": "Liberation Serif", "labelFontWeight": "bold", "labelFontSize": 15, "labelColor": "#000000"},
 "text": {"font": "Liberation Serif", "fontWeight": "bold", "fontSize": 15, "color": "#000000"}
}
}
